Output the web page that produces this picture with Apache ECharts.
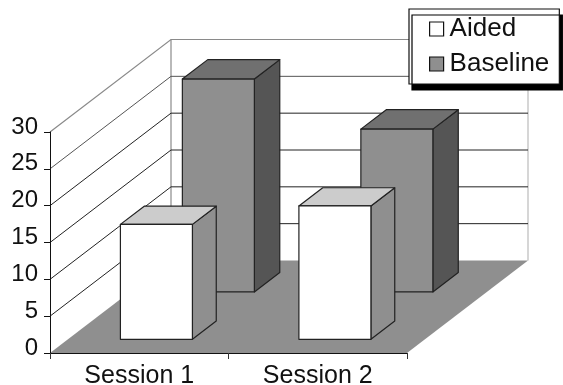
<!DOCTYPE html>
<html>
<head>
<meta charset="utf-8">
<title>Session chart</title>
<script src="https://cdn.jsdelivr.net/npm/echarts@6/dist/echarts.min.js"></script>
<style>
html, body { margin: 0; padding: 0; background: #fff; }
#chart { width: 563px; height: 385px; }
</style>
</head>
<body>
<div id="chart"></div>
<script>
var categories = ['Session 1', 'Session 2'];
var aided = [15.6, 18.1];
var baseline = [28.9, 22.1];
var yTicks = [0, 5, 10, 15, 20, 25, 30];

// depth of the floor in pixels
var DEPTH_X = 121;
var DEPTH_Y = 92.5;
var BAR_WIDTH = 72;
var FONT = '"Liberation Sans", Arial, sans-serif';

function barItem(front, back, colors) {
	return function(params, api) {
		var i = api.value(0);
		var base = api.coord([i, 0]);
		var top = api.coord([i, api.value(1)]);
		var x0 = base[0] + front * DEPTH_X - BAR_WIDTH / 2 - 0.75;
		var x1 = x0 + BAR_WIDTH;
		var y0 = base[1] - front * DEPTH_Y;
		var y1 = top[1] - front * DEPTH_Y;
		var dx = (back - front) * DEPTH_X;
		var dy = (back - front) * DEPTH_Y;
		var line = { stroke: '#222', lineWidth: 1.2, lineJoin: 'round' };
		function face(points, fill) {
			return {
				type: 'polygon',
				shape: { points: points },
				style: Object.assign({ fill: fill }, line)
			};
		}
		return {
			type: 'group',
			children: [
				face([[x1, y1], [x1 + dx, y1 - dy], [x1 + dx, y0 - dy], [x1, y0]], colors.side),
				face([[x0, y1], [x0 + dx, y1 - dy], [x1 + dx, y1 - dy], [x1, y1]], colors.top),
				face([[x0, y1], [x1, y1], [x1, y0], [x0, y0]], colors.front)
			]
		};
	};
}

function floorItem(params, api) {
	var rect = params.coordSys;
	var left = rect.x, right = rect.x + rect.width, y = rect.y + rect.height;
	return {
		type: 'polygon',
		shape: { points: [[left, y], [right, y], [right + DEPTH_X, y - DEPTH_Y], [left + DEPTH_X, y - DEPTH_Y]] },
		style: { fill: '#8f8f8f' }
	};
}

function wallItem(params, api) {
	var rect = params.coordSys;
	var left = rect.x, right = rect.x + rect.width;
	var tick = api.value(0);
	var y = api.coord([0, tick])[1];
	var color = tick == 30 ? '#8a8a8a' : (tick == 25 ? '#555' : '#222');
	var children = [];
	if (tick > 0) {
		children.push({
			type: 'polyline',
			shape: { points: [[left, y], [left + DEPTH_X, y - DEPTH_Y], [right + DEPTH_X, y - DEPTH_Y]] },
			style: { fill: null, stroke: color, lineWidth: tick == 30 ? 1.2 : 1 }
		});
	} else {
		var top = rect.y - DEPTH_Y;
		var bottom = rect.y + rect.height - DEPTH_Y;
		children.push({
			type: 'line',
			shape: { x1: left + DEPTH_X, y1: top, x2: left + DEPTH_X, y2: bottom },
			style: { stroke: '#8a8a8a', lineWidth: 1.2 }
		});
		children.push({
			type: 'line',
			shape: { x1: right + DEPTH_X, y1: top, x2: right + DEPTH_X, y2: bottom },
			style: { stroke: '#bbb', lineWidth: 1.2 }
		});
	}
	return { type: 'group', children: children };
}

function pairs(values) {
	return values.map(function(v, i) {
		return [i, v];
	});
}

var chartOption = {
	animation: false,
	backgroundColor: '#fff',
	legend: {
		data: [{
			name: 'Aided',
			icon: 'rect',
			itemStyle: { color: '#fff', borderColor: '#111', borderWidth: 1.2 }
		}, {
			name: 'Baseline',
			icon: 'rect',
			itemStyle: { color: '#8f8f8f', borderColor: '#111', borderWidth: 1.2 }
		}],
		orient: 'vertical',
		left: 409,
		top: 9,
		padding: [7, 10, 7, 20],
		itemWidth: 14,
		itemHeight: 14,
		itemGap: 9,
		align: 'left',
		backgroundColor: '#fff',
		borderColor: '#111',
		borderWidth: 1.2,
		shadowColor: '#000',
		shadowBlur: 0,
		shadowOffsetX: 3,
		shadowOffsetY: 6,
		selectedMode: false,
		z: 10,
		textStyle: {
			fontFamily: FONT,
			fontSize: 26,
			color: '#111',
			padding: [0, 0, 4, 1]
		}
	},
	grid: {
		left: 50,
		top: 132,
		width: 357,
		height: 221,
		outerBoundsMode: 'none'
	},
	xAxis: {
		type: 'category',
		data: categories,
		z: 5,
		axisLine: { lineStyle: { color: '#111', width: 1 } },
		axisTick: { show: true, alignWithLabel: false, length: 6, lineStyle: { color: '#333' } },
		axisLabel: { fontFamily: FONT, fontSize: 25, color: '#111', margin: 13, lineHeight: 20 },
		splitLine: { show: false }
	},
	yAxis: {
		type: 'value',
		min: 0,
		max: 30,
		interval: 5,
		z: 5,
		axisLine: { show: true, lineStyle: { color: '#111', width: 1 } },
		axisTick: { show: true, length: 6, lineStyle: { color: '#111' } },
		axisLabel: { fontFamily: FONT, fontSize: 24, color: '#111', margin: 12, verticalAlign: 'bottom', lineHeight: 10 },
		splitLine: { show: false }
	},
	series: [{
		type: 'custom',
		name: 'floor',
		silent: true,
		data: [[0]],
		renderItem: floorItem
	}, {
		type: 'custom',
		name: 'walls',
		silent: true,
		data: yTicks.map(function(t) { return [t]; }),
		encode: { y: 0 },
		renderItem: wallItem
	}, {
		type: 'custom',
		name: 'Baseline',
		data: pairs(baseline),
		encode: { x: 0, y: 1 },
		itemStyle: { color: '#8f8f8f' },
		renderItem: barItem(0.66, 0.87, { front: '#8f8f8f', top: '#707070', side: '#555' })
	}, {
		type: 'custom',
		name: 'Aided',
		data: pairs(aided),
		encode: { x: 0, y: 1 },
		itemStyle: { color: '#fff' },
		renderItem: barItem(0.148, 0.345, { front: '#fff', top: '#ccc', side: '#8f8f8f' })
	}]
};

var chart = echarts.init(document.getElementById('chart'));
chart.setOption(chartOption);
</script>
</body>
</html>
